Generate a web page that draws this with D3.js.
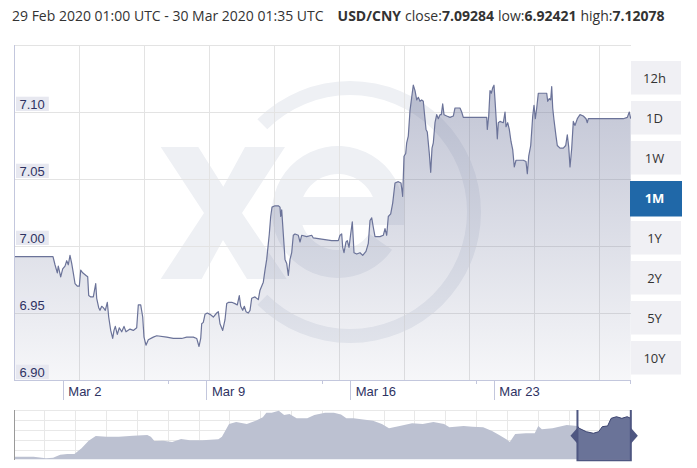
<!DOCTYPE html>
<html><head><meta charset="utf-8">
<script src="https://cdn.jsdelivr.net/npm/d3@7"></script>
<style>body{margin:0;background:#fff;} svg{display:block}</style>
</head><body><svg id="c" width="697" height="468"></svg>
<script>
// ---------------- data ----------------
const headerRange = "29 Feb 2020 01:00 UTC - 30 Mar 2020 01:35 UTC";
const pairName = "USD/CNY";
const statLabels = ["close:", "low:", "high:"];
const statValues = ["7.09284", "6.92421", "7.12078"];
const yTicks = [6.90, 6.95, 7.00, 7.05, 7.10];
const yGrid = [6.90, 6.95, 7.00, 7.05, 7.10, 7.15];
const xTickLabels = ["Mar 2", "Mar 9", "Mar 16", "Mar 23"];
const xTickDates = ["2020-03-02T00:00Z", "2020-03-09T00:00Z", "2020-03-16T00:00Z", "2020-03-23T00:00Z"];
const xMinorTickDates = ["2020-03-07T02:45Z", "2020-03-14T14:50Z", "2020-03-22T03:25Z", "2020-03-29T15:29Z"];
const rangeButtons = ["12h", "1D", "1W", "1M", "1Y", "2Y", "5Y", "10Y"];
const activeButton = "1M";
const chartStartISO = "2020-02-28T14:21Z";
const chartSpanDays = 30.047;
const gridStepDays = 3.167;
// [days since chart start, rate]
const usdCny = [
[0,6.992],[1.90,6.992],[1.998,6.986],[2.110,6.980],[2.158,6.985],[2.275,6.977],[2.373,6.983],[2.485,6.985],
[2.568,6.989],[2.646,6.986],[2.728,6.993],[2.811,6.987],[2.889,6.980],[2.972,6.972],[3.084,6.970],[3.182,6.970],
[3.250,6.982],[3.347,6.980],[3.508,6.978],[3.591,6.977],[3.640,6.963],[3.737,6.962],[3.864,6.962],[3.981,6.972],
[4.029,6.961],[4.127,6.954],[4.190,6.952],[4.273,6.955],[4.351,6.954],[4.448,6.952],[4.546,6.958],[4.614,6.947],
[4.712,6.937],[4.809,6.931],[4.872,6.937],[4.936,6.940],[5.033,6.934],[5.131,6.939],[5.248,6.936],[5.360,6.940],
[5.457,6.936],[5.652,6.938],[5.813,6.937],[5.978,6.939],[6.056,6.956],[6.173,6.956],[6.271,6.947],[6.334,6.932],
[6.431,6.926],[6.544,6.930],[6.787,6.932],[6.953,6.933],[7.440,6.932],[7.762,6.931],[8.171,6.931],[8.415,6.932],
[8.736,6.932],[8.902,6.931],[9.014,6.925],[9.097,6.931],[9.145,6.942],[9.223,6.943],[9.306,6.949],[9.418,6.950],
[9.550,6.949],[9.711,6.947],[9.876,6.950],[9.954,6.951],[10.037,6.942],[10.169,6.937],[10.281,6.945],[10.363,6.957],
[10.461,6.958],[10.607,6.958],[10.768,6.957],[10.880,6.956],[10.977,6.963],[11.046,6.955],[11.143,6.952],[11.221,6.955],
[11.304,6.951],[11.416,6.950],[11.499,6.952],[11.581,6.961],[11.742,6.962],[11.903,6.960],[11.986,6.967],[12.147,6.973],
[12.229,6.982],[12.312,6.990],[12.439,7.009],[12.507,7.022],[12.571,7.029],[12.717,7.030],[12.878,7.030],[12.960,7.029],
[12.995,7.022],[13.043,7.027],[13.121,7.009],[13.204,6.990],[13.287,6.987],[13.365,6.978],[13.448,6.990],[13.530,6.995],
[13.608,7.008],[13.691,7.009],[13.852,7.008],[13.935,7.003],[14.017,7.008],[14.261,7.007],[14.505,7.008],[14.583,7.006],
[15.070,7.005],[15.479,7.004],[15.801,7.004],[15.884,7.008],[15.966,7.009],[16.015,6.999],[16.079,6.995],[16.176,7.003],
[16.240,7.004],[16.322,6.999],[16.405,7.009],[16.483,7.018],[16.566,6.995],[16.697,6.994],[16.858,6.995],[16.990,6.993],
[17.150,6.996],[17.263,7.002],[17.345,7.019],[17.428,7.021],[17.506,7.014],[17.589,7.007],[17.833,7.007],[17.993,7.008],
[18.076,7.013],[18.159,7.008],[18.237,7.022],[18.354,7.024],[18.451,7.032],[18.563,7.047],[18.724,7.048],[18.856,7.047],
[18.938,7.037],[19.002,7.067],[19.085,7.069],[19.133,7.077],[19.211,7.082],[19.294,7.101],[19.377,7.111],[19.455,7.120],
[19.538,7.116],[19.621,7.109],[19.699,7.111],[19.782,7.108],[19.863,7.109],[19.942,7.108],[19.991,7.100],[20.074,7.087],
[20.137,7.085],[20.235,7.069],[20.303,7.055],[20.366,7.073],[20.430,7.077],[20.512,7.092],[20.595,7.098],[20.673,7.095],
[20.756,7.098],[20.819,7.098],[20.887,7.106],[20.951,7.098],[21.082,7.097],[21.243,7.096],[21.404,7.097],[21.487,7.103],
[21.730,7.103],[21.813,7.100],[21.891,7.096],[22.218,7.096],[23.031,7.096],[23.061,7.087],[23.129,7.097],[23.192,7.116],
[23.255,7.114],[23.324,7.118],[23.387,7.120],[23.436,7.109],[23.484,7.097],[23.548,7.080],[23.597,7.092],[23.679,7.093],
[23.840,7.092],[23.923,7.100],[23.972,7.089],[24.054,7.092],[24.132,7.087],[24.215,7.078],[24.298,7.072],[24.376,7.059],
[24.459,7.064],[24.571,7.064],[24.815,7.064],[24.946,7.063],[25.010,7.054],[25.078,7.067],[25.176,7.075],[25.273,7.097],
[25.336,7.105],[25.400,7.095],[25.468,7.103],[25.546,7.114],[25.789,7.114],[25.955,7.114],[26.003,7.108],[26.081,7.110],
[26.149,7.109],[26.198,7.119],[26.247,7.103],[26.310,7.094],[26.408,7.082],[26.471,7.075],[26.603,7.073],[26.763,7.073],
[26.880,7.075],[26.958,7.083],[27.027,7.074],[27.090,7.059],[27.173,7.073],[27.251,7.093],[27.334,7.090],[27.446,7.095],
[27.577,7.098],[27.738,7.097],[27.870,7.095],[27.933,7.092],[27.982,7.095],[28.225,7.095],[28.552,7.095],[29.200,7.095],
[29.687,7.095],[29.882,7.096],[29.979,7.100],[30.047,7.095]
];
// navigator (longer history)
const navDomain = ["2019-04-18T00:00Z", "2020-03-30T00:00Z"];
const navDates = ["2019-04-18","2019-04-29","2019-05-06","2019-05-10","2019-05-14","2019-05-18","2019-05-22","2019-05-26",
"2019-05-30","2019-06-03","2019-06-09","2019-06-16","2019-06-24","2019-07-02","2019-07-04","2019-07-06","2019-07-11",
"2019-07-16","2019-07-21","2019-07-26","2019-08-02","2019-08-11","2019-08-13","2019-08-17","2019-08-21","2019-08-27",
"2019-09-01","2019-09-05","2019-09-07","2019-09-10","2019-09-14","2019-09-17","2019-09-20","2019-09-24","2019-09-30",
"2019-10-04","2019-10-10","2019-10-15","2019-10-19","2019-10-22","2019-10-26","2019-11-06","2019-11-11","2019-11-15",
"2019-11-21","2019-11-28","2019-12-04","2019-12-10","2019-12-16","2019-12-19","2019-12-27","2020-01-01","2020-01-07",
"2020-01-12","2020-01-16","2020-01-20","2020-01-22","2020-01-25","2020-01-31","2020-02-05","2020-02-07","2020-02-09",
"2020-02-15","2020-02-23","2020-02-29","2020-03-01","2020-03-05","2020-03-09","2020-03-12","2020-03-14","2020-03-17",
"2020-03-19","2020-03-22","2020-03-25","2020-03-28","2020-03-30"];
const navRates = [6.651,6.651,6.632,6.639,6.674,6.682,6.682,6.749,
6.839,6.894,6.886,6.886,6.898,6.906,6.886,6.835,6.839,
6.824,6.859,6.844,6.844,6.855,6.886,7.035,7.059,7.035,
7.074,7.114,7.168,7.168,7.192,7.141,7.153,7.102,7.102,
7.141,7.168,7.168,7.146,7.102,7.102,7.074,7.035,6.985,
7.012,7.044,7.035,7.059,7.035,6.996,7.012,7.004,6.996,
6.953,6.906,6.855,6.824,6.918,6.926,6.926,7.012,6.973,
6.985,7.024,7.012,6.985,6.945,6.926,6.945,7.004,7.012,
7.102,7.121,7.102,7.121,7.102];
const navYDomain = [6.62, 7.20];
const selectionRange = ["2020-02-29T01:00Z", "2020-03-30T01:35Z"];

// ---------------- drawing ----------------
const svg = d3.select("#c");
const DAY = 864e5;
const L = 14, R = 630.7, T = 45, B = 380;
const chartStart = new Date(chartStartISO);
const chartEnd = new Date(+chartStart + chartSpanDays * DAY);
const x = d3.scaleUtc().domain([chartStart, chartEnd]).range([L, R]);
const y = d3.scaleLinear().domain([6.90, 7.15]).range([B, T]);
const pts = usdCny.map(([d, v]) => ({ t: new Date(+chartStart + d * DAY), v }));

const defs = svg.append("defs");
const grad = defs.append("linearGradient").attr("id", "fillGrad")
  .attr("x1", 0).attr("y1", 0).attr("x2", 0).attr("y2", 1);
grad.append("stop").attr("offset", "0%").attr("stop-color", "#6b7399").attr("stop-opacity", 0.42);
grad.append("stop").attr("offset", "100%").attr("stop-color", "#6b7399").attr("stop-opacity", 0.06);

// header
const hdr = svg.append("text").attr("x", 12).attr("y", 21)
  .attr("font-family", "'Open Sans', sans-serif").attr("font-size", 14).attr("fill", "#333");
hdr.append("tspan").text(headerRange);
hdr.append("tspan").attr("dx", 14).attr("font-weight", "bold").text(pairName);
statLabels.forEach((lab, i) => {
  hdr.append("tspan").attr("dx", 4).text(lab);
  hdr.append("tspan").attr("font-weight", "bold").text(statValues[i]);
});

// watermark (behind grid)
const wm = svg.append("g").attr("fill", "#eef0f4");
wm.append("path").attr("d", "M160.7,147 L198.3,147 L223.3,186.7 L245,147 L285,147 L242,213 L286.7,279 L247,279 L223,240 L201.7,279 L160.7,279 L204,213 Z");
wm.append("path").attr("transform", "translate(350,212)")
  .attr("d", d3.arc()({ innerRadius: 117, outerRadius: 131, startAngle: -Math.PI / 4, endAngle: 225 * Math.PI / 180 }));
wm.append("path").attr("transform", "translate(338,212)")
  .attr("d", d3.arc()({ innerRadius: 38, outerRadius: 66, startAngle: 125 * Math.PI / 180, endAngle: 461 * Math.PI / 180 }));
wm.append("rect").attr("x", 300).attr("y", 197).attr("width", 104).attr("height", 28);

// grid
const gridDates = d3.range(10).map(k => new Date(+chartStart + k * gridStepDays * DAY));
svg.append("g").selectAll("line").data(gridDates).join("line")
  .attr("x1", d => x(d)).attr("x2", d => x(d)).attr("y1", T).attr("y2", B)
  .attr("stroke", "#e3e3e3").attr("stroke-width", 1).attr("shape-rendering", "crispEdges");
svg.append("g").selectAll("line").data(yGrid).join("line")
  .attr("x1", L).attr("x2", R).attr("y1", d => y(d)).attr("y2", d => y(d))
  .attr("stroke", "#e3e3e3").attr("stroke-width", 1).attr("shape-rendering", "crispEdges");

// area + line
const area = d3.area().x(d => x(d.t)).y0(y(6.90)).y1(d => y(d.v)).curve(d3.curveLinear);
const line = d3.line().x(d => x(d.t)).y(d => y(d.v));
svg.append("path").datum(pts).attr("d", area).attr("fill", "url(#fillGrad)");
svg.append("path").datum(pts).attr("d", line).attr("fill", "none")
  .attr("stroke", "#6b7399").attr("stroke-width", 1.2).attr("stroke-linejoin", "round");

// axes lines
svg.append("line").attr("x1", L).attr("x2", L).attr("y1", T).attr("y2", B)
  .attr("stroke", "#c3c7dd").attr("shape-rendering", "crispEdges");
svg.append("line").attr("x1", L).attr("x2", R).attr("y1", B).attr("y2", B)
  .attr("stroke", "#c3c7dd").attr("shape-rendering", "crispEdges");

// x ticks
const xt = svg.append("g");
xTickDates.forEach((s, i) => {
  const px = x(new Date(s));
  xt.append("line").attr("x1", px).attr("x2", px).attr("y1", B).attr("y2", B + 20)
    .attr("stroke", "#c3c7dd").attr("shape-rendering", "crispEdges");
  xt.append("text").attr("x", px + 5).attr("y", B + 16)
    .attr("font-family", "'Liberation Sans', Arial, sans-serif").attr("font-size", 13)
    .attr("fill", "#2e3262").text(xTickLabels[i]);
});
xMinorTickDates.forEach(s => {
  const px = x(new Date(s));
  xt.append("line").attr("x1", px).attr("x2", px).attr("y1", B).attr("y2", B + 4)
    .attr("stroke", "#c3c7dd").attr("shape-rendering", "crispEdges");
});

// y labels with boxes
const yl = svg.append("g");
yTicks.forEach(v => {
  const gy = y(v);
  const g = yl.append("g");
  const r = g.append("rect").attr("x", 16).attr("y", gy - 15.3).attr("height", 14.3).attr("fill", "#e7e8f0");
  const t = g.append("text").attr("x", 19.5).attr("y", gy - 3.2)
    .attr("font-family", "'Liberation Sans', Arial, sans-serif").attr("font-size", 13)
    .attr("fill", "#2e3262").text(v.toFixed(2));
  const w = t.node().getComputedTextLength();
  r.attr("width", w + 7.5);
});

// range buttons
const btn = svg.append("g");
rangeButtons.forEach((b, i) => {
  const top = 61 + i * 40;
  const act = b === activeButton;
  btn.append("rect").attr("x", act ? 630 : 631).attr("y", top).attr("width", act ? 52 : 50).attr("height", act ? 35.5 : 33.5)
    .attr("fill", act ? "#2068a8" : "#f0f0f4");
  btn.append("text").attr("x", 654.5).attr("y", top + 22)
    .attr("text-anchor", "middle").attr("font-family", "'Open Sans', sans-serif").attr("font-size", 13)
    .attr("font-weight", act ? "bold" : "normal").attr("fill", act ? "#fff" : "#333").text(b);
});

// navigator
const NT = 410, NB = 459.3;
const nx = d3.scaleUtc().domain(navDomain.map(s => new Date(s))).range([L, R]);
const ny = d3.scaleLinear().domain(navYDomain).range([NB, NT]);
const navPts = navDates.map((d, i) => ({ t: new Date(d + "T00:00Z"), v: navRates[i] }));
const ng = svg.append("g");
const navGridY = d3.scaleLinear().domain([0, 5]).range([NT, NT + 50]);
d3.range(5).forEach(k => {
  ng.append("line").attr("x1", L).attr("x2", R).attr("y1", navGridY(k)).attr("y2", navGridY(k))
    .attr("stroke", "#e8e8e8").attr("shape-rendering", "crispEdges");
});
const navGridX = d3.scaleLinear().domain([0, 20]).range([L, R]);
d3.range(1, 21).forEach(k => {
  ng.append("line").attr("x1", navGridX(k)).attr("x2", navGridX(k)).attr("y1", NT).attr("y2", NB)
    .attr("stroke", "#e8e8e8").attr("shape-rendering", "crispEdges");
});
const navArea = d3.area().x(d => nx(d.t)).y0(NB).y1(d => ny(d.v));
const navLine = d3.line().x(d => nx(d.t)).y(d => ny(d.v));
ng.append("path").datum(navPts).attr("d", navArea).attr("fill", "#bcc1d1");
const s0 = nx(new Date(selectionRange[0])), s1 = nx(new Date(selectionRange[1]));
defs.append("clipPath").attr("id", "selClip").append("rect")
  .attr("x", s0).attr("y", NT - 2).attr("width", s1 - s0).attr("height", 60);
ng.append("path").datum(navPts).attr("d", navArea).attr("fill", "#6a7398").attr("clip-path", "url(#selClip)");
ng.append("path").datum(navPts).attr("d", navLine).attr("fill", "none").attr("stroke", "#3c4470")
  .attr("stroke-width", 1).attr("clip-path", "url(#selClip)");
ng.append("line").attr("x1", L).attr("x2", L).attr("y1", NT).attr("y2", NB + 1)
  .attr("stroke", "#9a9a9a").attr("shape-rendering", "crispEdges");
ng.append("path").attr("d", `M${s0},${NT} V${NB + 1} H${s1} V${NT}`)
  .attr("fill", "none").attr("stroke", "#4e5681").attr("stroke-width", 2);
const hy = (NT + NB) / 2 + 1;
ng.append("path").attr("d", `M${s0},${hy - 8} L${s0 - 7},${hy} L${s0},${hy + 8} Z`).attr("fill", "#4e5681");
ng.append("path").attr("d", `M${s1},${hy - 8} L${s1 + 7},${hy} L${s1},${hy + 8} Z`).attr("fill", "#4e5681");
</script></body></html>
